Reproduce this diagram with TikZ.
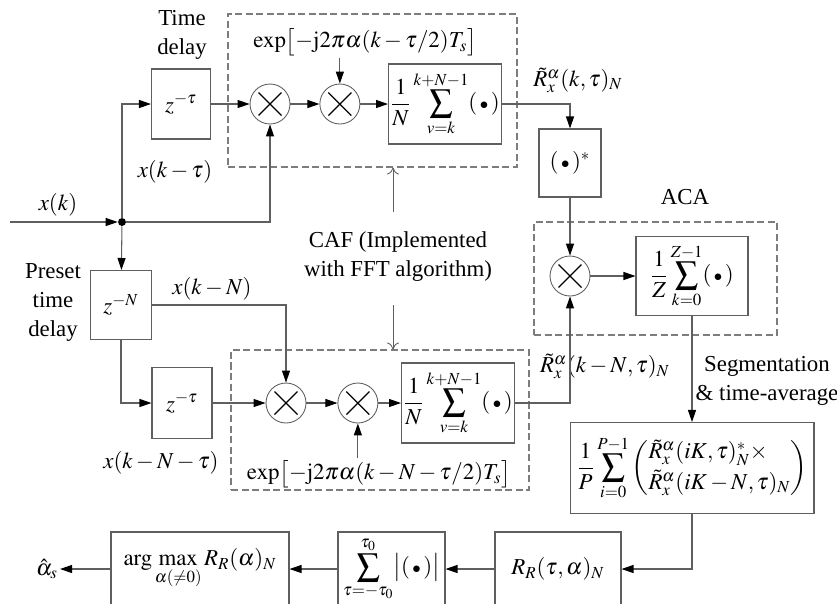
\documentclass[tikz,border=0pt]{standalone}
\usepackage{amsmath}
\usepackage{mathptmx}
\usepackage[no-math]{fontspec}
\setmainfont{Liberation Serif}
\usetikzlibrary{arrows.meta, positioning, fit}
\definecolor{linegray}{RGB}{95,95,95}
\definecolor{dashgray}{RGB}{125,125,125}
\newcommand{\dotarg}{(\,{\scriptstyle\bullet}\,)}

\begin{document}
\begin{tikzpicture}[x=0.02cm, y=-0.02cm, font=\fontsize{13}{16.5}\selectfont]
  \tikzset{
    blk/.style={rectangle, draw=linegray, line width=0.6pt, inner sep=1pt,
                align=center},
    mixer/.style={circle, draw=linegray, line width=0.5pt, minimum size=0.8cm,
                  inner sep=0pt,
                  path picture={\draw[black, line width=0.7pt]
                    ([shift={(-0.23cm,-0.23cm)}]path picture bounding box.center) --
                    ([shift={(0.23cm,0.23cm)}]path picture bounding box.center)
                    ([shift={(-0.23cm,0.23cm)}]path picture bounding box.center) --
                    ([shift={(0.23cm,-0.23cm)}]path picture bounding box.center);}},
    lbl/.style={inner sep=1pt, align=center},
    grp/.style={draw=dashgray, dash pattern=on 4pt off 2pt, line width=0.6pt,
                inner sep=0pt},
    arr/.style={draw=linegray, line width=0.6pt,
                -{Triangle[length=0.24cm, width=0.16cm, color=black]}},
    openarr/.style={draw=linegray, line width=0.5pt,
                    -{To[length=0.14cm, width=0.24cm]}}
  }
  \useasboundingbox (0,0) rectangle (837,603);
  % Input and junction
  \coordinate (in) at (10,222);
  \node[circle, fill=black, inner sep=0pt, minimum size=4.5pt] (jn) at (122,222) {};
  \node[lbl] (xk) at (58,205) {$x(k)$};
  % Upper branch
  \node[lbl] (tdlbl) at (182,35) {Time\\delay};
  \node[blk, minimum width=1.18cm, minimum height=1.4cm] (zt1) at (181,104) {$z^{-\tau}$};
  \node[lbl] (xkt) at (175,172) {$x(k-\tau)$};
  \node[grp, fit={(228,14) (517,167)}] (caf1) {};
  \node[mixer] (m1) at (270,104) {};
  \node[mixer, right=0.58cm of m1] (m2) {};
  \node[lbl] (exp1) at (365,42) {$\exp\bigl[-\mathrm{j}2\pi\alpha(k-\tau/2)T_s\bigr]$};
  \node[blk, minimum width=2.16cm, minimum height=1.6cm] (sum1) at (445,104)
       {$\displaystyle\frac{1}{N}\sum_{v=k}^{k+N-1}\dotarg$};
  \node[lbl] (rt1) at (578,80) {$\tilde{R}_x^{\alpha}(k,\tau)_N$};
  \node[blk, minimum width=1.24cm, minimum height=1.36cm] (conj) at (570,163) {$\dotarg^{*}$};
  % CAF note
  \node[lbl] (caftxt) at (398,257) {CAF (Implemented\\with FFT algorithm)};
  \coordinate (cafu) at (393,212);
  \coordinate (cafd) at (393,305);
  % ACA
  \node[lbl] (acalbl) at (685,197) {ACA};
  \node[grp, fit={(534,222) (777,335)}] (aca) {};
  \node[mixer] (m3) at (570,276) {};
  \node[blk, minimum width=2.24cm, minimum height=1.58cm] (sumz) at (692,276)
       {$\displaystyle\frac{1}{Z}\sum_{k=0}^{Z-1}\dotarg$};
  % Lower branch
  \node[lbl] (pslbl) at (53,302) {Preset\\time\\delay};
  \node[blk, minimum width=1.22cm, minimum height=1.38cm] (zn) at (121,305) {$z^{-N}$};
  \node[lbl] (xkn) at (212,289) {$x(k-N)$};
  \node[blk, minimum width=1.2cm, minimum height=1.42cm] (zt2) at (182,403) {$z^{-\tau}$};
  \node[lbl] (xknt) at (161,463) {$x(k-N-\tau)$};
  \node[grp, fit={(231,350) (529,490)}] (caf2) {};
  \node[mixer] (m4) at (286,403) {};
  \node[mixer, right=0.62cm of m4] (m5) {};
  \node[lbl] (exp2) at (379,474) {$\exp\bigl[-\mathrm{j}2\pi\alpha(k-N-\tau/2)T_s\bigr]$};
  \node[blk, minimum width=2.18cm, minimum height=1.6cm] (sum2) at (458,403)
       {$\displaystyle\frac{1}{N}\sum_{v=k}^{k+N-1}\dotarg$};
  \node[lbl] (rt2) at (605,366) {$\tilde{R}_x^{\alpha}(k-N,\tau)_N$};
  % Segmentation and output chain
  \node[lbl] (seglbl) at (767,381) {Segmentation\\\& time-average};
  \node[blk, minimum width=4.88cm, minimum height=1.82cm] (pavg) at (692,468)
       {$\displaystyle\frac{1}{P}\sum_{i=0}^{P-1}\left(\begin{array}{@{}l@{}}
         \tilde{R}_x^{\alpha}(iK,\tau)_N^{*}\times\\[1pt]
         \tilde{R}_x^{\alpha}(iK-N,\tau)_N\end{array}\right)$};
  \node[blk, minimum width=2.52cm, minimum height=1.48cm] (rr) at (558,569) {$R_R(\tau,\alpha)_N$};
  \node[blk, minimum width=2.14cm, minimum height=1.48cm] (sumt) at (391.5,569)
       {$\displaystyle\sum_{\tau=-\tau_0}^{\tau_0}\bigl|\dotarg\bigr|$};
  \node[blk, minimum width=3.56cm, minimum height=1.48cm] (amax) at (200,569)
       {$\displaystyle\arg\max_{\alpha(\neq 0)} R_R(\alpha)_N$};
  \node[lbl] (ahat) at (47,569) {$\hat{\alpha}_s$};
  % Connectors
  \draw[arr] (in) -- (jn);
  \draw[arr] (jn) |- (zt1);
  \draw[arr] (jn) -| (m1);
  \draw[arr] (jn) -- (zn);
  \foreach \a/\b in {zt1/m1,m1/m2,m2/sum1,conj/m3,m3/sumz,sumz/pavg,
                     zt2/m4,m4/m5,m5/sum2,rr/sumt,sumt/amax,amax/ahat}
    \draw[arr] (\a) -- (\b);
  \draw[arr] (exp1.south -| m2) -- (m2);
  \draw[arr] (exp2.north -| m5) -- (m5);
  \draw[arr] (sum1) -| (conj);
  \draw[arr] (sum2) -| (m3);
  \draw[arr] (zn) -| (m4);
  \draw[arr] (zn) |- (zt2);
  \draw[arr] (pavg) |- (rr);
  \draw[openarr] (cafu) -- (caf1.south -| cafu);
  \draw[openarr] (cafd) -- (caf2.north -| cafd);
\end{tikzpicture}
\end{document}
